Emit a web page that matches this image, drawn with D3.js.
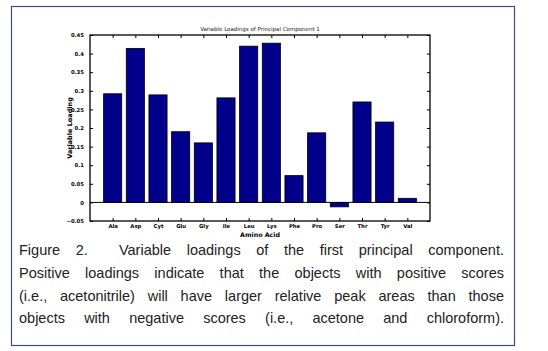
<!DOCTYPE html>
<html lang="en">
<head>
<meta charset="UTF-8">
<title>Variable Loadings of Principal Component 1</title>
<script src="https://cdn.jsdelivr.net/npm/d3@7/dist/d3.min.js"></script>
<style>
  body { margin: 0; background: #fff; }
  svg { display: block; }
</style>
</head>
<body>
<div id="chart"></div>
<script>
// data
var categories = ["Ala","Asp","Cyt","Glu","Gly","Ile","Leu","Lys","Phe","Pro","Ser","Thr","Tyr","Val"];
var loadings = [0.292, 0.414, 0.289, 0.190, 0.160, 0.281, 0.420, 0.428, 0.072, 0.187, -0.012, 0.270, 0.216, 0.011];
var yTicks = [-0.05, 0, 0.05, 0.1, 0.15, 0.2, 0.25, 0.3, 0.35, 0.4, 0.45];
var captionLines = [
  ["Figure", "2.", "Variable", "loadings", "of", "the", "first", "principal", "component."],
  ["Positive", "loadings", "indicate", "that", "the", "objects", "with", "positive", "scores"],
  ["(i.e.,", "acetonitrile)", "will", "have", "larger", "relative", "peak", "areas", "than", "those"],
  ["objects", "with", "negative", "scores", "(i.e.,", "acetone", "and", "chloroform)."]
];

var width = 548, height = 351,
    margin = {top: 35, right: 118, bottom: 130, left: 90},
    g_width = width - margin.left - margin.right,
    g_height = height - margin.top - margin.bottom;

var svg = d3.select("#chart").append("svg")
    .attr("width", width).attr("height", height);

// outer frame
svg.append("rect")
    .attr("x", 11.5).attr("y", 6.5)
    .attr("width", 503).attr("height", 339)
    .attr("fill", "none").attr("stroke", "#3b4f78").attr("stroke-width", 1.2);

var x = d3.scaleLinear().domain([0, categories.length + 1]).range([0, g_width]);
var y = d3.scaleLinear().domain([-0.05, 0.45]).range([g_height, 0]);
var bw = (x(1) - x(0)) * 0.8;

var g = svg.append("g").attr("transform", "translate(" + margin.left + "," + margin.top + ")");

// bars
g.selectAll("rect.bar").data(loadings).enter().append("rect")
    .attr("class", "bar")
    .attr("x", function(d, i) { return x(i + 1) - bw / 2; })
    .attr("y", function(d) { return y(Math.max(0, d)); })
    .attr("width", bw)
    .attr("height", function(d) { return Math.abs(y(d) - y(0)); })
    .attr("fill", "#00008b")
    .attr("stroke", "#000").attr("stroke-width", 0.8);

// baseline
g.append("line")
    .attr("x1", 0).attr("x2", g_width)
    .attr("y1", y(0)).attr("y2", y(0))
    .attr("stroke", "#000").attr("stroke-width", 1);

// axes (ticks inside, matlab style)
var tickFmt = function(d) { return d === 0 ? "0" : d3.format("")(+d.toFixed(2)); };
var yl = g.append("g").call(d3.axisLeft(y).tickValues(yTicks).tickSize(-3).tickPadding(6).tickFormat(tickFmt));
var yr = g.append("g").attr("transform", "translate(" + g_width + ",0)")
    .call(d3.axisRight(y).tickValues(yTicks).tickSize(-3).tickFormat(""));
var xb = g.append("g").attr("transform", "translate(0," + g_height + ")")
    .call(d3.axisBottom(x).tickValues(d3.range(1, categories.length + 1)).tickSize(-3).tickPadding(3)
      .tickFormat(function(d) { return categories[d - 1]; }));
var xt = g.append("g")
    .call(d3.axisTop(x).tickValues(d3.range(1, categories.length + 1)).tickSize(-3).tickFormat(""));

[yl, yr, xb, xt].forEach(function(a) {
  a.select(".domain").remove();
  a.selectAll("line").attr("stroke", "#000").attr("stroke-width", 1);
  a.selectAll("text").attr("font-family", "DejaVu Sans, sans-serif").attr("font-size", 5.3)
    .attr("font-weight", "bold").attr("fill", "#000");
});
yl.selectAll("text").attr("dy", "0.32em");
xb.selectAll("text").attr("dy", "0.71em");

// plot box
g.append("rect").attr("width", g_width).attr("height", g_height)
    .attr("fill", "none").attr("stroke", "#000").attr("stroke-width", 1.3);

// titles
svg.append("text")
    .attr("x", margin.left + g_width / 2).attr("y", 31)
    .attr("text-anchor", "middle")
    .attr("font-family", "DejaVu Sans, sans-serif").attr("font-size", 5.5).attr("fill", "#222")
    .text("Variable Loadings of Principal Component 1");
svg.append("text")
    .attr("x", margin.left + g_width / 2).attr("y", 236.5)
    .attr("text-anchor", "middle")
    .attr("font-family", "DejaVu Sans, sans-serif").attr("font-size", 6.3).attr("font-weight", "bold")
    .text("Amino Acid");
svg.append("text")
    .attr("transform", "translate(72," + (margin.top + g_height / 2) + ") rotate(-90)")
    .attr("text-anchor", "middle")
    .attr("font-family", "DejaVu Sans, sans-serif").attr("font-size", 6.5).attr("font-weight", "bold")
    .text("Variable Loading");

// caption, justified word by word
var capLeft = 19, capRight = 504, capY = [255, 278, 301, 323];
captionLines.forEach(function(words, li) {
  var tg = svg.append("g");
  var nodes = words.map(function(w) {
    return tg.append("text").attr("y", capY[li])
      .attr("font-family", "Liberation Sans, Arial, sans-serif").attr("font-size", 14.5)
      .attr("fill", "#222").text(w);
  });
  var widths = nodes.map(function(n) { return n.node().getComputedTextLength(); });
  var total = d3.sum(widths);
  // first line has an extra tab gap after "2."
  var gaps = words.length - 1 + (li === 0 ? 1 : 0);
  var gap = (capRight - capLeft - total) / gaps;
  var cx = capLeft;
  nodes.forEach(function(n, i) {
    n.attr("x", cx);
    cx += widths[i] + gap + (li === 0 && i === 1 ? gap : 0);
  });
});
</script>
</body>
</html>
